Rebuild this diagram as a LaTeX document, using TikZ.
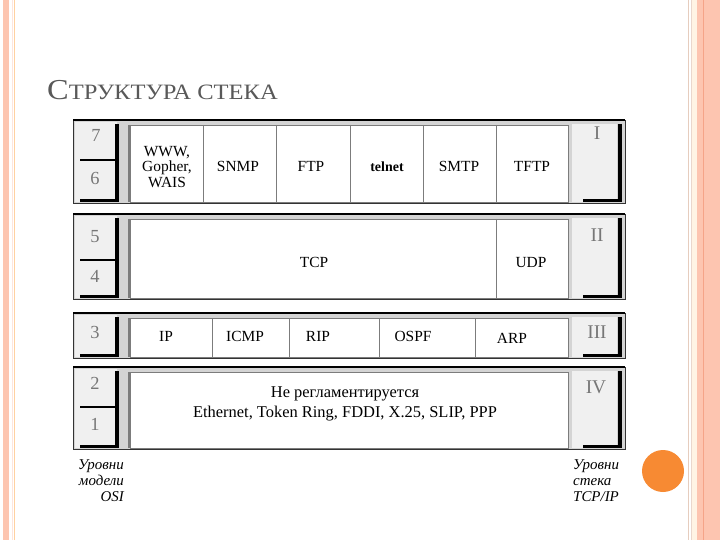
\documentclass[tikz,border=0pt]{standalone}
\usepackage{fontspec}
\setmainfont{Liberation Serif}
\newfontfamily\titlefont[FakeStretch=1.12]{Liberation Serif}
\definecolor{salmon}{HTML}{FDC5B0}
\definecolor{salmonD}{HTML}{F5A488}
\definecolor{creamc}{HTML}{FFF4E4}
\definecolor{tanline}{HTML}{E6CDBE}
\definecolor{orangec}{HTML}{F78A33}
\definecolor{panel}{HTML}{F0F0F0}
\definecolor{strip}{HTML}{D4D4D4}
\definecolor{numgray}{HTML}{777777}
\definecolor{titlegray}{HTML}{595959}
\definecolor{cellgray}{HTML}{7C7C7C}
\newcommand\stackband[2]{%
  \fill[strip] (73,#1) rectangle (625,#2);
  \fill[panel] (75,#1+2) rectangle (117,#2-1);
  \fill[white] (130,#1+5) rectangle (568,#2-1);
  \draw[cellgray, line width=1.6] (129,#1+5) -- (129,#2-1);
  \draw[cellline] (130,#1+5) rectangle (568,#2-1);
  \fill[panel] (572,#1+4) rectangle (617,#2-1);
  \draw[black!80, line width=0.8] (73,#1) rectangle (625,#2);
  \draw[line width=2.5] (73,#1) -- (625,#1);
  \draw[line width=3.5] (117,#1+4) -- (117,#2-1);
  \draw[line width=3] (80,#2-2.5) -- (118.75,#2-2.5);
  \draw[line width=4] (619.5,#1+4) -- (619.5,#2-1);
  \draw[line width=3] (583,#2-2.5) -- (621.5,#2-2.5);
}
\begin{document}
\begin{tikzpicture}[x=1bp,y=-1bp,
  cellline/.style={cellgray, line width=0.8},
  celltext/.style={font=\fontsize{15.5}{15.5}\selectfont, inner sep=0, align=center},
  numtext/.style={font=\fontsize{18.5}{18.5}\selectfont, text=numgray, inner sep=0},
  romtext/.style={font=\fontsize{19.5}{19.5}\selectfont, text=numgray, inner sep=0},
  lab/.style={font=\itshape\fontsize{15}{16}\selectfont, inner sep=0},
  divider/.style={line width=2}]
\useasboundingbox (0,0) rectangle (720,540);
\fill[white] (0,0) rectangle (720,540);
% slide border
\fill[salmon] (3,0) rectangle (9,540);
\draw[salmon!45, line width=0.8] (12,0) -- (12,540);
\draw[creamc!70!orange, line width=0.8] (14.5,0) -- (14.5,540);
\draw[tanline, line width=0.9] (688,0) -- (688,540);
\draw[tanline!80, line width=0.9] (691,0) -- (691,540);
\fill[creamc] (692,0) rectangle (697,540);
\fill[salmon] (697,0) rectangle (720,540);
\draw[salmonD, line width=1] (703,0) -- (703,540);
% title
\node[anchor=base west, text=titlegray, inner sep=0] (title) at (47,100)
  {\titlefont\fontsize{29}{29}\selectfont С\fontsize{22}{22}\selectfont ТРУКТУРА СТЕКА};
% bands
\stackband{120}{203}
\stackband{214}{299}
\stackband{313}{358}
\stackband{367}{449}
% band 1
\draw[divider] (80,160) -- (117,160);
\foreach \x in {203,276,350,423,496} \draw[cellline] (\x,125) -- (\x,202);
\node[numtext] (n7) at (96,135) {7};
\node[numtext] (n6) at (95,178) {6};
\node[romtext] (r1) at (597,133) {I};
\node[celltext] (www) at (167,167) {WWW,\\Gopher,\\WAIS};
\node[celltext] (snmp) at (238,166) {SNMP};
\node[celltext] (ftp) at (311,166) {FTP};
\node[celltext, font=\bfseries\fontsize{14}{14}\selectfont] (telnet) at (387,167) {telnet};
\node[celltext] (smtp) at (459,166) {SMTP};
\node[celltext] (tftp) at (532,166) {TFTP};
% band 2
\draw[divider] (80,260) -- (117,260);
\draw[cellline] (496,219) -- (496,298);
\node[numtext] (n5) at (95,237) {5};
\node[numtext] (n4) at (95,276) {4};
\node[romtext] (r2) at (597,235) {II};
\node[celltext] (tcp) at (314,262) {TCP};
\node[celltext] (udp) at (531,263) {UDP};
% band 3
\foreach \x in {212,289,379,475} \draw[cellline] (\x,318) -- (\x,357);
\node[numtext] (n3) at (95,332) {3};
\node[romtext] (r3) at (597,332) {III};
\node[celltext] (ip) at (166,336) {IP};
\node[celltext] (icmp) at (245,336) {ICMP};
\node[celltext] (rip) at (318,336) {RIP};
\node[celltext] (ospf) at (413,336) {OSPF};
\node[celltext] (arp) at (512,338) {ARP};
% band 4
\draw[divider] (80,407) -- (117,407);
\node[numtext] (n2) at (95,383) {2};
\node[numtext] (n1) at (95,424) {1};
\node[romtext] (r4) at (596,387) {IV};
\node[celltext, font=\fontsize{16.5}{20}\selectfont] (phys) at (345,404)
  {Не регламентируется\\Ethernet, Token Ring, FDDI, X.25, SLIP, PPP};
% bottom labels
\node[lab, align=right, anchor=north east] (osi) at (124,460) {Уровни\\модели\\OSI};
\node[lab, align=left, anchor=north west] (tcpip) at (573,460) {Уровни\\стека\\TCP/IP};
% orange circle
\fill[orangec] (663,471) circle (21);
\end{tikzpicture}
\end{document}
